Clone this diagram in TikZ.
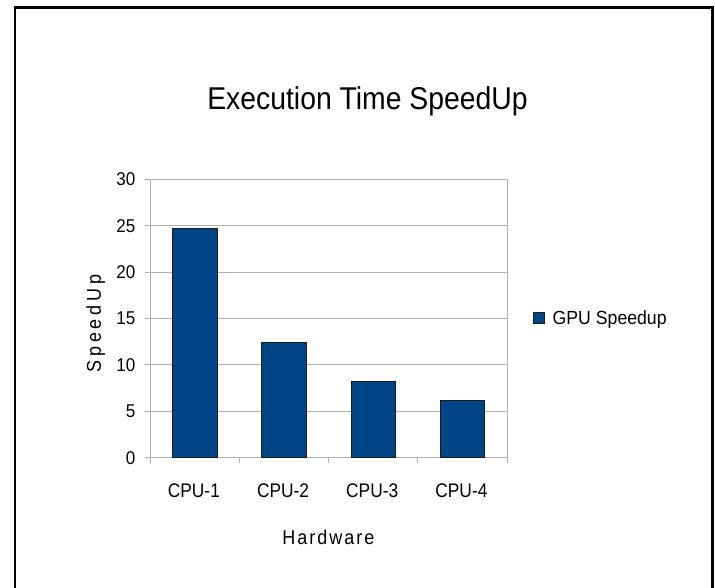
\documentclass[tikz,border=0pt]{standalone}
\usepackage{fontspec}
\setmainfont{Liberation Sans}[FakeStretch=0.92]
\newfontfamily\titlefont{Liberation Sans}[FakeStretch=0.9]
\newfontfamily\catfont{Liberation Sans}[FakeStretch=0.88]
\newfontfamily\legfont{Liberation Sans}[FakeStretch=0.93]
\newfontfamily\xaxisfont{Liberation Sans}[FakeStretch=0.9,LetterSpace=10]
\newfontfamily\yaxisfont{Liberation Sans}[FakeStretch=0.9,LetterSpace=19]
\definecolor{barblue}{HTML}{004586}
\definecolor{gridgray}{HTML}{B3B3B3}
\definecolor{edgedark}{HTML}{1C1C1C}
\tikzset{
  frameline/.style={line width=2.2pt, black},
  gridline/.style={gridgray, line width=1pt},
  barbox/.style={fill=barblue, draw=edgedark, line width=0.8pt},
  ticklabel/.style={inner sep=0pt, font=\fontsize{18.5}{20}\selectfont},
  catlabel/.style={inner sep=0pt, font=\catfont\fontsize{19.7}{21}\selectfont},
  leglabel/.style={inner sep=0pt, font=\legfont\fontsize{19}{21}\selectfont},
}
\begin{document}
\begin{tikzpicture}[x=1pt,y=-1pt]
\useasboundingbox (0,0) rectangle (715,588);
\fill[white] (0,0) rectangle (715,588);
% outer frame (bottom is cut off)
\draw[frameline] (15,588) -- (15,7.5) -- (712.5,7.5) -- (712.5,588);
% title
\node[inner sep=0pt, anchor=base, font=\titlefont\fontsize{31.5}{34}\selectfont] (title) at (367.5,109.3) {Execution Time SpeedUp};
% grid lines and y tick labels
\foreach \v in {0,5,...,30} {
  \pgfmathsetmacro{\yy}{457.7-9.28*\v}
  \draw[gridline] (145,\yy) -- (507,\yy);
  \node[ticklabel, anchor=east] (yl\v) at (135.5,\yy) {\v};
}
% axes
\draw[gridline] (150.3,179.3) -- (150.3,457.7);
\draw[gridline] (507,179.3) -- (507,463);
\foreach \k in {0,...,3} {
  \pgfmathsetmacro{\xx}{150.3+89.175*\k}
  \draw[gridline] (\xx,457.7) -- (\xx,463);
}
% bars
\foreach \i/\val/\lab in {1/24.7/CPU-1, 2/12.4/CPU-2, 3/8.2/CPU-3, 4/6.2/CPU-4} {
  \pgfmathsetmacro{\cx}{150.3+89.175*(\i-0.5)}
  \pgfmathsetmacro{\top}{457.7-9.28*\val}
  \draw[barbox] (\cx-22.3,457.2) rectangle (\cx+22.3,\top);
  \node[catlabel, anchor=base] (xl\i) at (\cx-1,497.7) {\lab};
}
% axis titles
\node[inner sep=0pt, anchor=base, font=\xaxisfont\fontsize{20}{22}\selectfont] (xtitle) at (328.5,544) {Hardware};
\node[inner sep=0pt, anchor=base, rotate=90, font=\yaxisfont\fontsize{20}{22}\selectfont] (ytitle) at (100.8,323.5) {SpeedUp};
% legend
\node[barbox, minimum size=11.5pt, inner sep=0pt] (legsq) at (539,318) {};
\node[leglabel, anchor=base west] (legtext) at (552.5,324.5) {GPU Speedup};
\end{tikzpicture}
\end{document}
